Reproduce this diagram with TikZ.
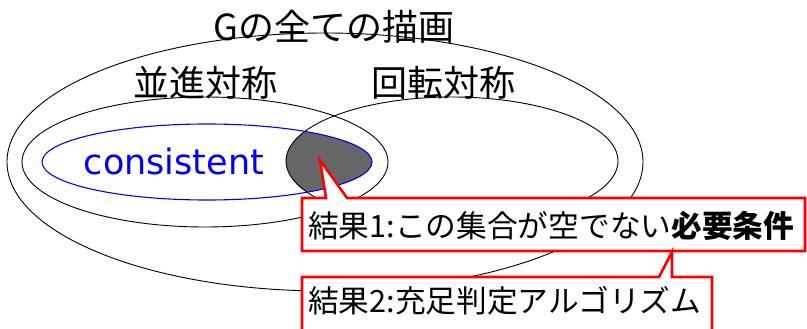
\documentclass[tikz,border=0pt]{standalone}
\usepackage{fontspec}
\setmainfont{Noto Sans CJK JP}
\newfontfamily\latinfont{DejaVu Sans}
\begin{document}
\begin{tikzpicture}[x=1pt,y=-1pt,
  set/.style={draw=black,line width=0.9pt},
  bigtxt/.style={font=\fontsize{36}{40}\selectfont,inner sep=0pt},
  calltxt/.style={font=\fontsize{30.7}{34}\selectfont,inner sep=0pt,anchor=west},
  callbox/.style={draw=red,line width=2.6pt,fill=white,line join=miter}]
\useasboundingbox (0,0) rectangle (807,329);
\clip (0,0) rectangle (807,329);
% shaded intersection
\begin{scope}
  \clip (207,162) ellipse [x radius=165pt, y radius=38pt];
  \fill[black!60] (452,161) ellipse [x radius=166pt, y radius=64pt];
\end{scope}
\draw[set] (325,162) ellipse [x radius=318pt, y radius=129pt];
\draw[set] (205,162) ellipse [x radius=183pt, y radius=65pt];
\draw[set] (452,161) ellipse [x radius=166pt, y radius=64pt];
\draw[blue,line width=1.1pt] (207,162) ellipse [x radius=165pt, y radius=38pt];
\node[bigtxt] (all) at (334,27) {Gの全ての描画};
\node[bigtxt] (trans) at (205,83) {並進対称};
\node[bigtxt] (rot) at (443,83) {回転対称};
\node[bigtxt,text=blue,font=\latinfont\fontsize{35}{40}\selectfont] (cons) at (174,161) {consistent};
% callout 1
\coordinate (tip1) at (320,160);
\draw[callbox] (302,198) -- (326,198) -- (tip1) -- (347,198) -- (805,198) -- (805,251) -- (302,251) -- cycle;
\node[calltxt] (r1) at (308,226) {結果1:この集合が空でない\textbf{必要条件}};
% callout 2
\coordinate (tip2) at (672,252);
\draw[callbox] (302,277) -- (659,277) -- (tip2) -- (672,277) -- (712,277) -- (712,345) -- (302,345) -- cycle;
\node[calltxt] (r2) at (308,301) {結果2:充足判定アルゴリズム};
\end{tikzpicture}
\end{document}
